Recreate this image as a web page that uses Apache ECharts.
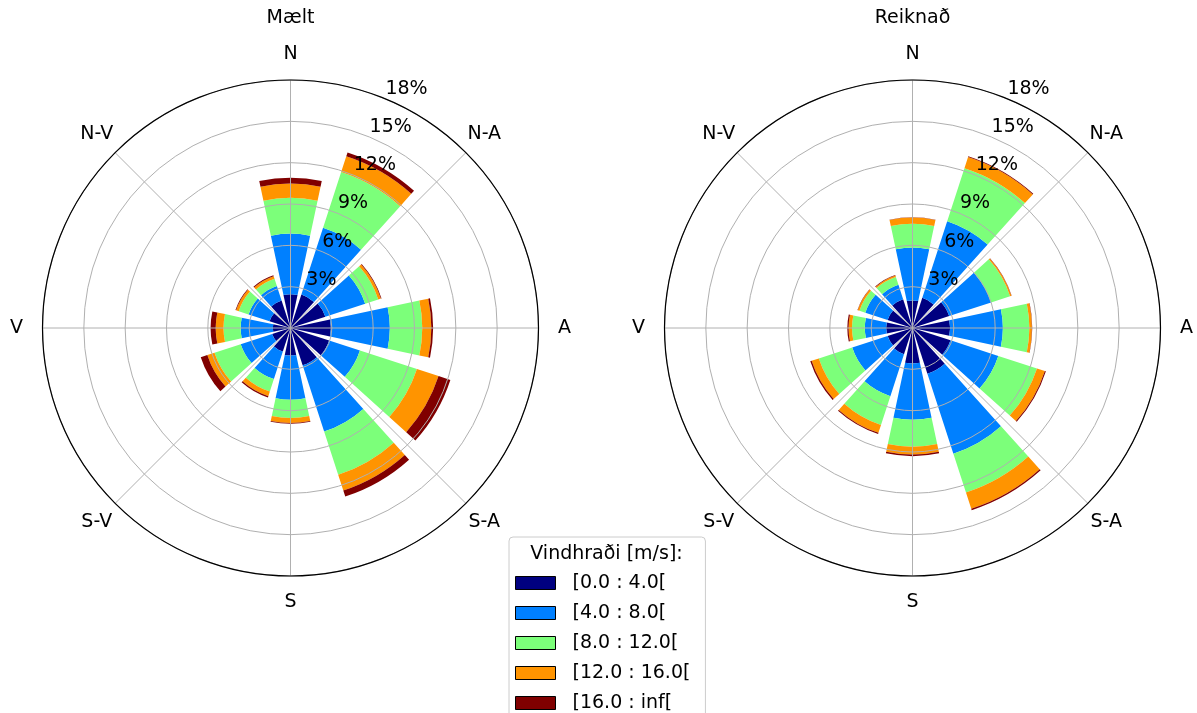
<!DOCTYPE html>
<html>
<head>
<meta charset="utf-8">
<script src="https://cdn.jsdelivr.net/npm/echarts@6/dist/echarts.min.js"></script>
<style>
html,body{margin:0;padding:0;background:#fff;}
#c{width:1197px;height:713px;}
</style>
</head>
<body>
<div id="c"></div>
<script>
// ---- data ----
const chartTitles = ['Mælt', 'Reiknað'];
const directions = [0, 30, 60, 90, 120, 150, 180, 210, 240, 270, 300, 330];
const speedBins = ['[0.0 : 4.0[', '[4.0 : 8.0[', '[8.0 : 12.0[', '[12.0 : 16.0[', '[16.0 : inf['];
const binColors = ['#000080', '#0080ff', '#7cff7a', '#ff9400', '#800000'];
const legendTitle = 'Vindhraði [m/s]:';

// Mælt (percent frequency per speed bin, per direction)
const maeltBin0 = [2.45, 2.55, 2.66, 2.93, 2.95, 2.85, 2.00, 1.80, 1.40, 1.28, 1.60, 2.10];
const maeltBin1 = [4.40, 5.10, 3.04, 4.28, 2.35, 5.05, 3.21, 2.10, 2.40, 2.34, 1.60, 1.10];
const maeltBin2 = [2.60, 4.25, 1.00, 2.35, 4.35, 3.30, 1.32, 0.95, 2.00, 1.24, 0.75, 0.55];
const maeltBin3 = [1.04, 1.20, 0.20, 0.66, 1.65, 1.20, 0.37, 0.35, 0.55, 0.57, 0.20, 0.20];
const maeltBin4 = [0.42, 0.30, 0.05, 0.13, 0.90, 0.46, 0.05, 0.10, 0.50, 0.37, 0.05, 0.07];

// Reiknað
const reiknBin0 = [2.00, 2.30, 2.80, 2.73, 2.90, 3.50, 2.58, 2.00, 1.90, 1.91, 1.90, 2.20];
const reiknBin1 = [3.84, 5.85, 3.20, 3.83, 3.65, 6.10, 4.08, 3.20, 2.70, 1.55, 1.70, 1.10];
const reiknBin2 = [1.73, 4.05, 1.45, 1.92, 2.95, 2.96, 1.95, 2.20, 2.55, 0.93, 0.45, 0.60];
const reiknBin3 = [0.45, 0.85, 0.10, 0.19, 0.60, 1.24, 0.57, 0.60, 0.55, 0.25, 0.13, 0.10];
const reiknBin4 = [0.02, 0.05, 0.02, 0.02, 0.08, 0.10, 0.12, 0.08, 0.10, 0.09, 0.02, 0.05];

const radialTicks = [3, 6, 9, 12, 15, 18];
const radialLabelAngle = 22.5;
const compassLabels = ['N', 'N-A', 'A', 'S-A', 'S', 'S-V', 'V', 'N-V'];
const compassAngles = [0, 45, 90, 135, 180, 225, 270, 315];
const compassLabelRadius = 19.89;

// ---- chart ----
const FONT = 'DejaVu Sans';
const centers = [[290.5, 328], [912.5, 328]];
const R = 248;
const chartsData = [
  [maeltBin0, maeltBin1, maeltBin2, maeltBin3, maeltBin4],
  [reiknBin0, reiknBin1, reiknBin2, reiknBin3, reiknBin4]
];

const polar = [], angleAxis = [], radiusAxis = [], series = [], graphic = [];
centers.forEach(function (c, p) {
  polar.push({ center: c, radius: R });
  angleAxis.push({
    polarIndex: p, type: 'value', min: 0, max: 360, interval: 45,
    startAngle: 90, clockwise: true, z: 4,
    axisLine: { show: true, lineStyle: { color: '#000', width: 1.2 } },
    axisTick: { show: false }, axisLabel: { show: false },
    splitLine: { show: true, lineStyle: { color: '#b0b0b0', width: 1 } }
  });
  radiusAxis.push({
    polarIndex: p, type: 'value', min: 0, max: 18, interval: 3, z: 3,
    axisLine: { show: false }, axisTick: { show: false }, axisLabel: { show: false },
    splitLine: { show: true, lineStyle: { color: '#b0b0b0', width: 1 } }
  });
  chartsData[p].forEach(function (vals, b) {
    series.push({
      type: 'bar', coordinateSystem: 'polar', polarIndex: p,
      stack: 'rose' + p, name: speedBins[b], barWidth: '80%',
      itemStyle: { color: binColors[b] },
      data: directions.map(function (a, i) { return [vals[i], a]; }),
      silent: true, z: 2
    });
  });
  series.push({
    type: 'scatter', coordinateSystem: 'polar', polarIndex: p, clip: false, silent: true, z: 10,
    symbolSize: 1, itemStyle: { color: 'rgba(255,255,255,0)' },
    data: radialTicks.map(function (t) { return [t, radialLabelAngle]; }),
    label: {
      show: true, position: [0.5, 0.5], align: 'left', verticalAlign: 'middle', offset: [0, -10],
      formatter: function (q) { return q.value[0] + '%'; },
      fontSize: 19, fontFamily: FONT, color: '#000', opacity: 1, textBorderWidth: 0
    }
  });
  series.push({
    type: 'scatter', coordinateSystem: 'polar', polarIndex: p, clip: false, silent: true, z: 10,
    symbolSize: 1, itemStyle: { color: 'rgba(255,255,255,0)' },
    data: compassAngles.map(function (a, i) { return { value: [compassLabelRadius, a], name: compassLabels[i] }; }),
    label: {
      show: true, position: [0.5, 0.5], align: 'center', verticalAlign: 'middle',
      formatter: '{b}', fontSize: 19, fontFamily: FONT, color: '#000', opacity: 1, textBorderWidth: 0
    }
  });
  graphic.push({
    type: 'text', x: c[0], y: 18, z: 100,
    style: { text: chartTitles[p], fontSize: 19, fontFamily: FONT, fill: '#000', align: 'center', verticalAlign: 'middle' }
  });
});

graphic.push({
  type: 'text', x: 606.5, y: 554, z: 100,
  style: { text: legendTitle, fontSize: 19, fontFamily: FONT, fill: '#000', align: 'center', verticalAlign: 'middle' }
});

const chart = echarts.init(document.getElementById('c'), null, { renderer: 'canvas' });
chart.setOption({
  backgroundColor: '#fff',
  animation: false,
  textStyle: { fontFamily: FONT },
  polar: polar,
  angleAxis: angleAxis,
  radiusAxis: radiusAxis,
  legend: {
    data: speedBins, orient: 'vertical', left: 509, top: 537, height: 220, width: 196,
    padding: [36, 15, 10, 6], itemGap: 10, itemWidth: 40, itemHeight: 13,
    icon: 'rect', selectedMode: false,
    borderColor: '#cccccc', borderWidth: 1, borderRadius: 4,
    backgroundColor: 'rgba(255,255,255,0.8)',
    itemStyle: { borderColor: '#000', borderWidth: 1 },
    textStyle: { fontSize: 19, fontFamily: FONT, color: '#000', lineHeight: 20, padding: [0, 0, 0, 12] }
  },
  graphic: graphic,
  series: series
});
</script>
</body>
</html>
